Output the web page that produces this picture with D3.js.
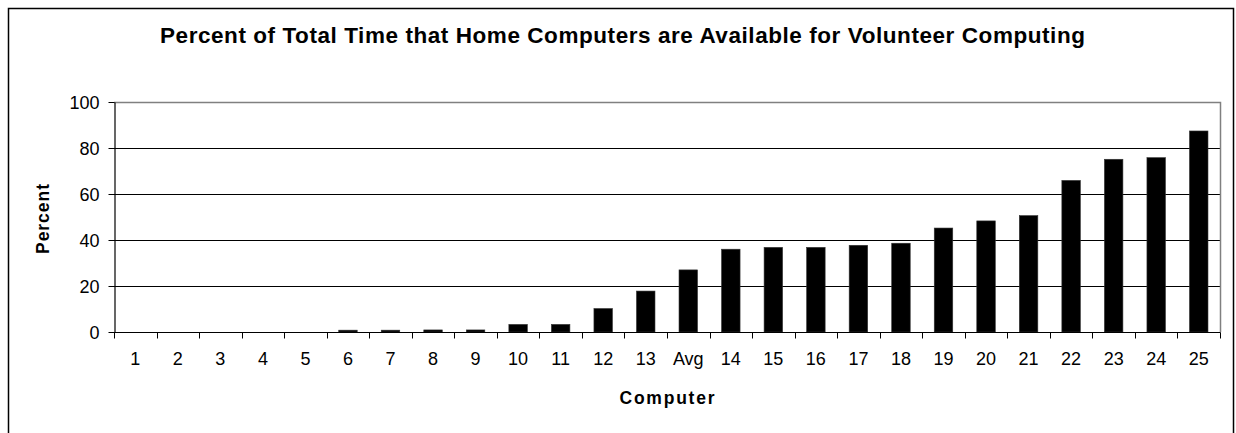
<!DOCTYPE html>
<html>
<head>
<meta charset="utf-8">
<script src="https://cdn.jsdelivr.net/npm/d3@7"></script>
<style>
  html, body { margin: 0; padding: 0; background: #fff; }
  svg { display: block; }
  text { font-family: "Liberation Sans", Arial, sans-serif; fill: #000; }
</style>
</head>
<body>
<svg id="chart" width="1236" height="433"></svg>
<script>
// Computers sorted by availability, with the average inserted in its place
const computers = ["1","2","3","4","5","6","7","8","9","10","11","12","13","Avg",
                   "14","15","16","17","18","19","20","21","22","23","24","25"];
const percentAvailable = [0, 0, 0, 0, 0, 0.8, 0.8, 0.9, 0.9, 3.3, 3.3, 10.2, 17.8, 27.0,
                          36.0, 36.8, 36.8, 37.7, 38.6, 45.2, 48.3, 50.6, 65.9, 75.1, 75.8, 87.4];
const yTicks = [0, 20, 40, 60, 80, 100];

const titleText = "Percent of Total Time that Home Computers are Available for Volunteer Computing";
const xTitle = "Computer";
const yTitle = "Percent";

const svg = d3.select("#chart");
const plot = { left: 114, top: 102, right: 1220, bottom: 332 };

// outer chart frame
svg.append("rect")
  .attr("x", 8.5).attr("y", 8.5)
  .attr("width", 1225).attr("height", 440)
  .attr("fill", "#fff").attr("stroke", "#000").attr("stroke-width", 1.5);

const x = d3.scaleBand()
  .domain(computers)
  .range([plot.left, plot.right])
  .paddingInner(0.565)
  .paddingOuter(0.2825);

const y = d3.scaleLinear().domain([0, 100]).range([plot.bottom, plot.top]);

// horizontal gridlines
svg.append("g")
  .selectAll("line")
  .data(yTicks.filter(t => t > 0 && t < 100))
  .join("line")
  .attr("x1", plot.left).attr("x2", plot.right)
  .attr("y1", d => Math.round(y(d)) + 0.5).attr("y2", d => Math.round(y(d)) + 0.5)
  .attr("stroke", "#000").attr("stroke-width", 1);

// plot area border (top and right in gray)
svg.append("path")
  .attr("d", `M${plot.left},${plot.top + 0.5}H${plot.right + 0.5}V${plot.bottom}`)
  .attr("fill", "none").attr("stroke", "#808080").attr("stroke-width", 1.5);

// bars
svg.append("g")
  .selectAll("rect")
  .data(computers.map((c, i) => ({ c, v: percentAvailable[i] })))
  .join("rect")
  .attr("x", d => x(d.c))
  .attr("width", x.bandwidth())
  .attr("y", d => y(d.v))
  .attr("height", d => y(0) - y(d.v))
  .attr("fill", "#000")
  .attr("stroke", "#333").attr("stroke-width", 0.6);

// y axis
const yAxis = svg.append("g")
  .attr("transform", `translate(${plot.left + 0.5},0)`)
  .call(d3.axisLeft(y).tickValues(yTicks).tickSize(6).tickPadding(9).tickSizeOuter(0));
yAxis.select(".domain").attr("stroke", "#000").attr("stroke-width", 1.2);
yAxis.selectAll(".tick line").attr("stroke", "#000");
yAxis.selectAll(".tick text")
  .style("font-family", "'Liberation Sans', Arial, sans-serif")
  .style("font-size", "18px").attr("fill", "#000").attr("dy", "0.36em");

// x axis: ticks sit on the category boundaries
const xAxisG = svg.append("g").attr("transform", `translate(0,${plot.bottom + 0.5})`);
xAxisG.append("line")
  .attr("x1", plot.left).attr("x2", plot.right + 0.5)
  .attr("stroke", "#000").attr("stroke-width", 1.2);
const step = x.step();
const boundaries = d3.range(computers.length + 1).map(i => plot.left + i * step);
xAxisG.selectAll("line.tk")
  .data(boundaries)
  .join("line")
  .attr("class", "tk")
  .attr("x1", d => Math.round(d) + 0.5).attr("x2", d => Math.round(d) + 0.5)
  .attr("y1", 0).attr("y2", 6)
  .attr("stroke", "#000");
xAxisG.selectAll("text")
  .data(computers)
  .join("text")
  .attr("x", d => x(d) + x.bandwidth() / 2)
  .attr("y", 32.5)
  .attr("text-anchor", "middle")
  .style("font-size", "18px")
  .text(d => d);

// titles
svg.append("text")
  .attr("x", 622.5).attr("y", 43)
  .attr("text-anchor", "middle")
  .style("font-size", "22.5px").style("font-weight", "bold")
  .attr("textLength", 925).attr("lengthAdjust", "spacing")
  .text(titleText);

svg.append("text")
  .attr("x", (plot.left + plot.right) / 2).attr("y", 404)
  .attr("text-anchor", "middle")
  .style("font-size", "17.5px").style("font-weight", "bold")
  .attr("textLength", 95).attr("lengthAdjust", "spacing")
  .text(xTitle);

svg.append("text")
  .attr("transform", `translate(49,${(plot.top + plot.bottom) / 2 + 2}) rotate(-90)`)
  .attr("text-anchor", "middle")
  .style("font-size", "17.5px").style("font-weight", "bold")
  .attr("textLength", 70).attr("lengthAdjust", "spacing")
  .text(yTitle);
</script>
</body>
</html>
